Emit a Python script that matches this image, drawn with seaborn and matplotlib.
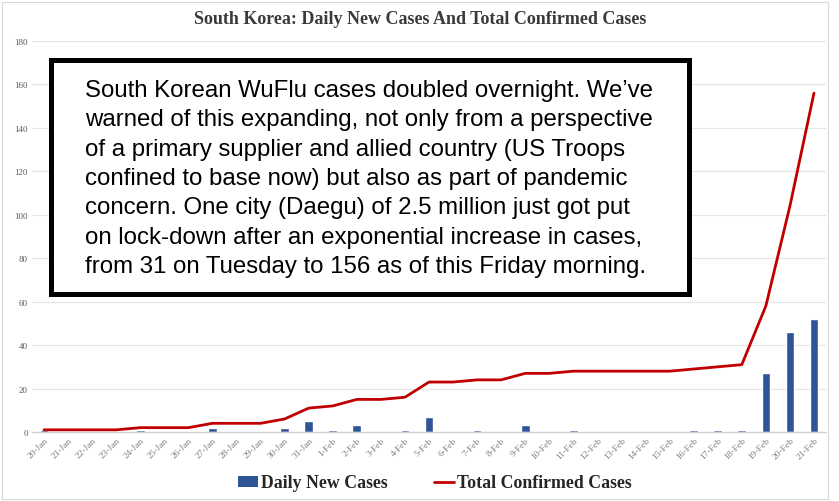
import pandas as pd
import numpy as np
import matplotlib
matplotlib.use("Agg")
import matplotlib.pyplot as plt
import seaborn as sns
from matplotlib.patches import Rectangle
from matplotlib.lines import Line2D
from matplotlib.patches import Patch

# data
dates = ["20-Jan", "21-Jan", "22-Jan", "23-Jan", "24-Jan", "25-Jan", "26-Jan", "27-Jan",
         "28-Jan", "29-Jan", "30-Jan", "31-Jan", "1-Feb", "2-Feb", "3-Feb", "4-Feb",
         "5-Feb", "6-Feb", "7-Feb", "8-Feb", "9-Feb", "10-Feb", "11-Feb", "12-Feb",
         "13-Feb", "14-Feb", "15-Feb", "16-Feb", "17-Feb", "18-Feb", "19-Feb", "20-Feb",
         "21-Feb"]
daily_new = [1, 0, 0, 0, 1, 0, 0, 2, 0, 0, 2, 5, 1, 3, 0, 1, 7, 0, 1, 0, 3, 0, 1, 0,
             0, 0, 0, 1, 1, 1, 27, 46, 52]
total_confirmed = [1, 1, 1, 1, 2, 2, 2, 4, 4, 4, 6, 11, 12, 15, 15, 16, 23, 23, 24, 24,
                   27, 27, 28, 28, 28, 28, 28, 29, 30, 31, 58, 104, 156]
yticks = list(range(0, 181, 20))

df = pd.DataFrame({"date": dates, "daily": daily_new, "total": total_confirmed})

bar_color = "#2d5597"
line_color = "#c00000"
serif = ["Liberation Serif", "DejaVu Serif"]

sns.set_theme(style="white")

fig = plt.figure(figsize=(8.39, 5.02), dpi=100)
ax = fig.add_axes([32 / 839, 1 - 433 / 502, (826 - 32) / 839, (433 - 42) / 502])

sns.barplot(data=df, x="date", y="daily", color=bar_color, width=0.36,
            saturation=1, ax=ax, zorder=2)
sns.lineplot(x=np.arange(len(dates)), y=df["total"], color=line_color,
             linewidth=2.0, ax=ax, zorder=3)

ax.set_ylim(0, 180)
ax.set_xlim(-0.5, len(dates) - 0.5)
ax.set_yticks(yticks)
ax.set_yticklabels([str(v) for v in yticks], fontsize=6.5, color="#595959", family=serif)
ax.set_xticks(range(len(dates)))
ax.set_xticklabels(dates, rotation=45, ha="right", rotation_mode="anchor",
                   fontsize=6.8, color="#7f7f7f", family=serif)
ax.tick_params(axis="both", length=0, pad=3)
ax.set_xlabel("")
ax.set_ylabel("")
ax.grid(axis="y", color="#e6e6e6", linewidth=0.9, zorder=0)
ax.set_axisbelow(True)
for side in ["top", "right", "left"]:
    ax.spines[side].set_visible(False)
ax.spines["bottom"].set_color("#d0d0d0")
ax.spines["bottom"].set_linewidth(0.9)

# title
fig.text(420 / 839, 1 - 19 / 502, "South Korea: Daily New Cases And Total Confirmed Cases",
         ha="center", va="center", fontsize=13, fontweight="bold", color="#3a3a3a",
         family=serif)

# legend
handles = [Patch(facecolor=bar_color, edgecolor="none", label="Daily New Cases"),
           Line2D([0], [0], color=line_color, linewidth=2.0, label="Total Confirmed Cases")]
fig.legend(handles=handles, loc="center", bbox_to_anchor=(435 / 839, 1 - 484 / 502),
           ncol=2, frameon=False, handlelength=1.1, handleheight=0.6, handletextpad=0.2,
           columnspacing=2.6, prop={"family": serif, "weight": "bold", "size": 12.8})
for t in fig.legends[0].get_texts():
    t.set_color("#262626")

# outer frame
fig.add_artist(Rectangle((2 / 839, 2 / 502), 826 / 839, 497 / 502,
                         transform=fig.transFigure, fill=False,
                         edgecolor="#d9d9d9", linewidth=0.8))

# annotation box
fig.add_artist(Rectangle((50.5 / 839, 1 - 294.5 / 502), 638 / 839, 234 / 502,
                         transform=fig.transFigure, facecolor="white",
                         edgecolor="black", linewidth=3.6, zorder=5))
note = ("South Korean WuFlu cases doubled overnight. We\u2019ve\n"
        "warned of this expanding, not only from a perspective\n"
        "of a primary supplier and allied country (US Troops\n"
        "confined to base now) but also as part of pandemic\n"
        "concern. One city (Daegu) of 2.5 million just got put\n"
        "on lock-down after an exponential increase in cases,\n"
        "from 31 on Tuesday to 156 as of this Friday morning.")
fig.text(85 / 839, 1 - 179 / 502, note, ha="left", va="center", fontsize=17.3,
         linespacing=1.43, color="black", family=["Liberation Sans", "DejaVu Sans"],
         zorder=6)

fig.savefig("out.png", dpi=100)
